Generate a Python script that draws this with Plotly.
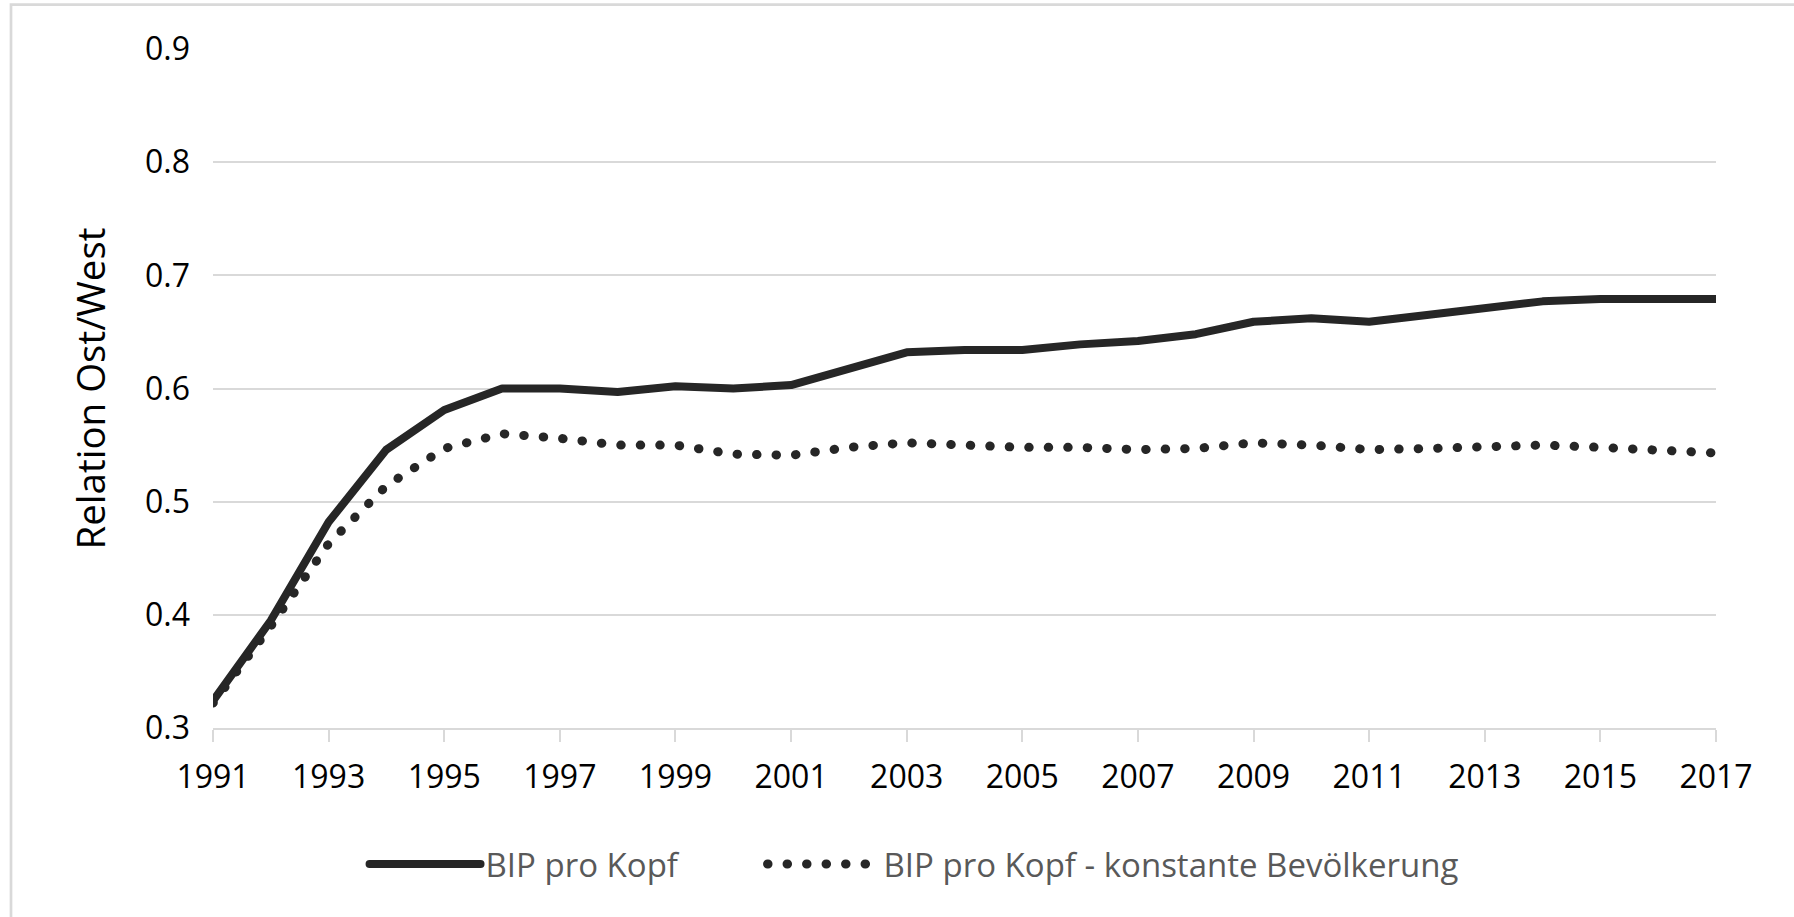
import plotly.graph_objects as go

# Ratio of East to West German GDP per capita
years = list(range(1991, 2018))
bip_pro_kopf = [0.324, 0.395, 0.482, 0.546, 0.581, 0.600, 0.600, 0.597, 0.602,
                0.600, 0.603, 0.617, 0.632, 0.634, 0.634, 0.639, 0.642, 0.648,
                0.659, 0.662, 0.659, 0.665, 0.671, 0.677, 0.679, 0.679, 0.679]
bip_konstant = [0.322, 0.390, 0.463, 0.514, 0.547, 0.560, 0.556, 0.550, 0.550,
                0.542, 0.541, 0.548, 0.552, 0.550, 0.548, 0.548, 0.546, 0.547,
                0.552, 0.550, 0.546, 0.547, 0.549, 0.550, 0.548, 0.545, 0.543]

series_names = ["BIP pro Kopf", "BIP pro Kopf - konstante Bevölkerung"]
x_ticks = list(range(1991, 2018, 2))
y_ticks = [0.3, 0.4, 0.5, 0.6, 0.7, 0.8, 0.9]

W, H = 1794, 917
ML, MR, MT, MB = 213, 78, 49, 189
PW, PH = W - ML - MR, H - MT - MB

INK = "#262626"
GRID = "#d9d9d9"
FONT = "Open Sans"

fig = go.Figure()
fig.add_trace(go.Scatter(
    x=years, y=bip_pro_kopf, name=series_names[0], mode="lines",
    line=dict(color=INK, width=8), legendwidth=272,
))
fig.add_trace(go.Scatter(
    x=years, y=bip_konstant, name=series_names[1], mode="lines",
    line=dict(color=INK, width=9, dash="0.5px,19px"),
))

# light frame around the chart area
fig.add_shape(
    type="rect", xref="paper", yref="paper", layer="below",
    x0=(11 - ML) / PW, x1=(W + 20 - ML) / PW,
    y0=-(H + 20 - PH - MT) / PH, y1=1 + (MT - 4.7) / PH,
    line=dict(color=GRID, width=2.7), fillcolor="rgba(0,0,0,0)",
)

fig.update_layout(
    width=W, height=H,
    margin=dict(l=ML, r=MR, t=MT, b=MB, pad=0),
    paper_bgcolor="white", plot_bgcolor="white",
    font=dict(family=FONT, color="#000000", size=32),
    showlegend=True,
    legend=dict(
        orientation="h", xref="container", yref="container",
        x=0.5095, xanchor="center", y=1 - 864 / H, yanchor="middle",
        font=dict(family=FONT, size=33, color="#595959"),
        itemwidth=111, tracegroupgap=0, bgcolor="rgba(0,0,0,0)",
    ),
    xaxis=dict(
        range=[1991, 2017], tickvals=x_ticks, ticktext=[str(v) for v in x_ticks],
        showgrid=False, zeroline=False,
        showline=True, linecolor=GRID, linewidth=2,
        ticks="outside", ticklen=12, tickwidth=2, tickcolor=GRID,
        tickfont=dict(family=FONT, size=32, color="#000000"),
        ticklabelstandoff=8,
    ),
    yaxis=dict(
        range=[0.3, 0.9], tickvals=y_ticks, ticktext=[f"{v:.1f}" for v in y_ticks],
        showgrid=True, gridcolor=GRID, gridwidth=2, zeroline=False,
        showline=False, ticks="",
        tickfont=dict(family=FONT, size=32, color="#000000"),
        ticklabelstandoff=22,
        title=dict(text="Relation Ost/West", standoff=27,
                   font=dict(family=FONT, size=38.5, color="#000000")),
    ),
)

# round caps and joins for the series strokes (turns the dash pattern into dots)
round_strokes = """
var gd = document.getElementById('{plot_id}');
function roundStrokes() {
  gd.querySelectorAll('path.js-line').forEach(function (p) {
    p.style.strokeLinecap = 'round';
    p.style.strokeLinejoin = 'round';
  });
}
roundStrokes();
gd.on('plotly_afterplot', roundStrokes);
"""

fig.write_html("out.html", post_script=round_strokes)
